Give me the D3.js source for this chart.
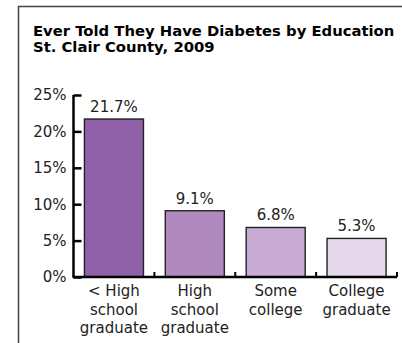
<!DOCTYPE html>
<html><head><meta charset="utf-8">
<script src="https://cdn.jsdelivr.net/npm/d3@7"></script>
<style>body{margin:0;background:#fff;} svg{display:block;}</style>
</head><body>
<svg id="c" width="402" height="343"></svg>
<script>
const categories = [["< High","school","graduate"],["High","school","graduate"],["Some","college"],["College","graduate"]];
const values = [21.7, 9.1, 6.8, 5.3];
const valueLabels = ["21.7%","9.1%","6.8%","5.3%"];
const colors = ["#9060a8","#b08abf","#c9acd6","#e5d8ea"];
const yTicks = [0,5,10,15,20,25];
const titleLines = ["Ever Told They Have Diabetes by Education","St. Clair County, 2009"];

const svg = d3.select("#c");
const font = "DejaVu Sans, Verdana, sans-serif";

// frame
svg.append("path").attr("d","M18.5,343 V6.5 H402").attr("fill","none").attr("stroke","#444").attr("stroke-width",1.5);

svg.selectAll("text.title").data(titleLines).join("text")
  .attr("x",33).attr("y",(d,i)=>36+i*16)
  .attr("font-family",font).attr("font-weight","bold").attr("font-size",14.8)
  .attr("fill","#000").text(d=>d);

const idx = categories.map((d,i)=>i);
const x = d3.scaleBand().domain(idx).range([73.5,397]).paddingInner(0).paddingOuter(0);
const y = d3.scaleLinear().domain([0,25]).range([277,95]);
const barW = x.bandwidth()*0.73, off = (x.bandwidth()-barW)/2;

// bars
svg.selectAll("rect.bar").data(values).join("rect")
  .attr("x",(d,i)=>x(i)+off).attr("width",barW)
  .attr("y",d=>y(d)).attr("height",d=>y(0)-y(d))
  .attr("fill",(d,i)=>colors[i]).attr("stroke","#222").attr("stroke-width",1.4);

// value labels
svg.selectAll("text.val").data(values).join("text")
  .attr("x",(d,i)=>x(i)+x.bandwidth()/2).attr("y",d=>y(d)-7)
  .attr("text-anchor","middle").attr("font-family",font).attr("font-size",15)
  .attr("fill","#222").text((d,i)=>valueLabels[i]);

// y axis
const yAxis = d3.axisLeft(y).tickValues(yTicks).tickFormat(d=>d+"%").tickSize(-8).tickPadding(7);
const gy = svg.append("g").attr("transform","translate(73.5,0)").call(yAxis);
gy.select(".domain").attr("stroke","#000").attr("stroke-width",2.5).attr("d","M0,95V277");
gy.selectAll(".tick line").attr("stroke","#000").attr("stroke-width",2.5);
gy.selectAll(".tick text").attr("font-family",font).attr("font-size",15).attr("fill","#222");

// baseline
svg.append("line").attr("x1",72.5).attr("x2",397).attr("y1",y(0)).attr("y2",y(0))
  .attr("stroke","#000").attr("stroke-width",2.5);
// x tick marks between bands
svg.selectAll("line.xt").data(idx).join("line")
  .attr("x1",i=>x(i)+x.bandwidth()).attr("x2",i=>x(i)+x.bandwidth())
  .attr("y1",y(0)).attr("y2",y(0)-5).attr("stroke","#000").attr("stroke-width",2);

// category labels
categories.forEach((lines,i)=>{
  const t = svg.append("text").attr("text-anchor","middle").attr("font-family",font)
    .attr("font-size",15).attr("fill","#222");
  lines.forEach((l,j)=>t.append("tspan").attr("x",x(i)+x.bandwidth()/2).attr("y",296+j*18.5).text(l));
});
</script>
</body></html>
